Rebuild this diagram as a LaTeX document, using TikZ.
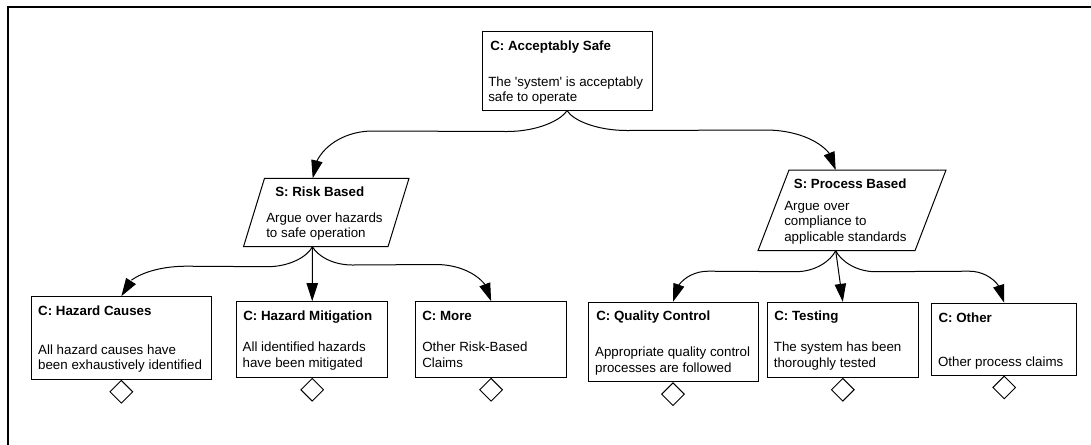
\documentclass[tikz,border=0pt]{standalone}
\usepackage{fontspec}
\newfontfamily\gsnfont{Liberation Sans}
\usetikzlibrary{arrows.meta,shapes.geometric,calc,bending}
\newcommand\gsnlines[1]{\vtop{\baselineskip=11.8pt\lineskiplimit=-20pt\halign{##\hfil\cr#1\crcr}}}
\begin{document}
\begin{tikzpicture}[x=0.75pt,y=-0.75pt,
  goal/.style={draw,rectangle,line width=0.75pt,inner sep=0pt},
  bsize/.style 2 args={minimum width=#1*0.75pt,minimum height=#2*0.75pt},
  ttl/.style={anchor=base west,inner sep=0pt,font=\gsnfont\fontsize{10}{12}\selectfont\bfseries},
  body/.style={anchor=base west,inner sep=0pt,font=\gsnfont\fontsize{10}{12}\selectfont},
  und/.style={draw,diamond,aspect=1,inner sep=0pt,minimum width=17.25pt,minimum height=17.25pt,anchor=north,line width=0.7pt},
  conn/.style={draw,line width=0.75pt,-{Triangle[length=13.5pt,width=8.5pt,flex]}},
  strat/.style={draw,line width=0.75pt,line join=miter}]

\useasboundingbox (0,0) rectangle (1091,444);
\fill[white] (0,0) rectangle (1091,444);
\draw[line width=1.5pt,line join=miter] (8.3,450) -- (8.3,6.7) -- (1095,6.7);

% top goal
\node[goal,bsize={170}{79}] (top) at (567,70.5) {};
\node[ttl] (top-t) at (490,50) {C: Acceptably Safe};
\node[body] (top-b) at (488,86) {\gsnlines{The 'system' is acceptably\cr safe to operate}};

% strategies
\draw[strat] (264.5,178.3) -- (409,178.3) -- (388,246.7) -- (243.5,246.7) -- cycle;
\coordinate (risk-in) at (312.7,178.3);
\coordinate (risk-out) at (312.4,246.7);
\node[ttl] (risk-t) at (275,196.7) {S: Risk Based};
\node[body] (risk-b) at (266,222) {\gsnlines{Argue over hazards\cr to safe operation}};

\draw[strat] (789,170) -- (946,170) -- (915,250.7) -- (758,250.7) -- cycle;
\coordinate (proc-in) at (835.7,170);
\coordinate (proc-out) at (835.7,250.7);
\node[ttl] (proc-t) at (793.6,188.7) {S: Process Based};
\node[body] (proc-b) at (784,210) {\gsnlines{Argue over\cr compliance to\cr applicable standards}};

% child goals
\node[goal,bsize={180.3}{82.6}] (hc) at (121.35,338) {};
\node[ttl] (hc-t) at (37.9,315.7) {C: Hazard Causes};
\node[body] (hc-b) at (37.9,354) {\gsnlines{All hazard causes have\cr been exhaustively identified}};

\node[goal,bsize={150.8}{75.6}] (hm) at (312.2,339.5) {};
\node[ttl] (hm-t) at (243,320.7) {C: Hazard Mitigation};
\node[body] (hm-b) at (242.4,351.7) {\gsnlines{All identified hazards\cr have been mitigated}};

\node[goal,bsize={151}{75.6}] (more) at (491.1,339.5) {};
\node[ttl] (more-t) at (422,320.7) {C: More};
\node[body] (more-b) at (422,351.7) {\gsnlines{Other Risk-Based\cr Claims}};

\node[goal,bsize={170}{79.4}] (qc) at (673,342) {};
\node[ttl] (qc-t) at (596,320.7) {C: Quality Control};
\node[body] (qc-b) at (594.9,356.7) {\gsnlines{Appropriate quality control\cr processes are followed}};

\node[goal,bsize={150.8}{75}] (test) at (842.8,339.8) {};
\node[ttl] (test-t) at (774,320.7) {C: Testing};
\node[body] (test-b) at (773.6,351.7) {\gsnlines{The system has been\cr thoroughly tested}};

\node[goal,bsize={145}{71.7}] (other) at (1004.2,339.15) {};
\node[ttl] (other-t) at (938.3,322) {C: Other};
\node[body] (other-b) at (937.8,366.7) {Other process claims};

% undeveloped diamonds
\node[und] (hc-d) at (hc.south) {};
\node[und] (hm-d) at (hm.south) {};
\node[und] (more-d) at (more.south) {};
\node[und] (qc-d) at (qc.south) {};
\node[und] (test-d) at (test.south) {};
\node[und] (other-d) at (other.south) {};

% connectors
\draw[conn] (top.south) .. controls +(-6,10) and +(30,0) .. ++(-60,21)
  -- ($(risk-in)+(60,-47.3)$) .. controls +(-33,0) and +(0,-26) .. (risk-in);
\draw[conn] (top.south) .. controls +(6,10) and +(-30,0) .. ++(60,20)
  -- ($(proc-in)+(-70,-40)$) .. controls +(38.5,0) and +(0,-22) .. (proc-in);

\draw[conn] (risk-out) .. controls +(-5,10) and +(22,0) .. ++(-45,20)
  -- ($(hc.north)+(65,-30)$) .. controls +(-36,0) and +(0,-16.5) .. (hc.north);
\draw[conn] (risk-out) -- (hm.north);
\draw[conn] (risk-out) .. controls +(5,9) and +(-20,0) .. ++(40,18.3)
  -- ($(more.north)+(-55,-36.7)$) .. controls +(30,0) and +(0,-20) .. (more.north);

\draw[conn] (proc-out) .. controls +(-5,10) and +(20,0) .. ++(-40,21)
  -- ($(qc.north)+(35,-30.6)$) .. controls +(-19,0) and +(0,-17) .. (qc.north);
\draw[conn] (proc-out) -- (test.north);
\draw[conn] (proc-out) .. controls +(5,10) and +(-20,0) .. ++(40,21)
  -- ($(other.north)+(-35,-31.6)$) .. controls +(19,0) and +(0,-17.4) .. (other.north);
\end{tikzpicture}
\end{document}
